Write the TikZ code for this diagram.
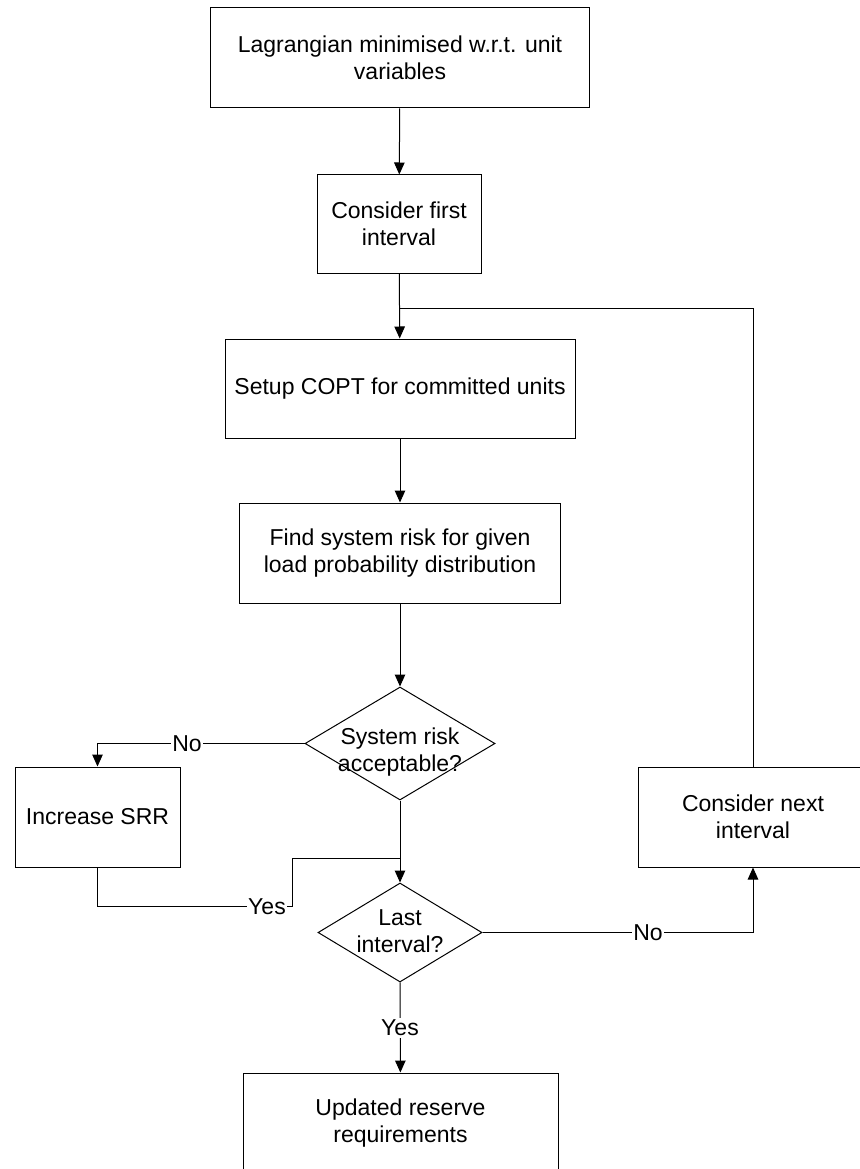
\documentclass[tikz,border=0pt]{standalone}
\usepackage{fontspec}
\setmainfont{Liberation Sans}
\usetikzlibrary{shapes.geometric,arrows.meta}
\begin{document}
\begin{tikzpicture}[x=1pt,y=-1pt,
  font=\fontsize{23}{27}\selectfont,
  line width=1pt,
  box/.style={draw, rectangle, align=center, inner sep=0pt},
  dia/.style={draw, diamond, inner sep=0pt},
  txt/.style={align=center, inner sep=0pt},
  lbl/.style={fill=white, inner sep=1.5pt},
  arr/.style={-{Triangle[length=12pt,width=10.5pt]}}]
\path[use as bounding box] (0,0) rectangle (859,1169);

\node[box, minimum width=379pt, minimum height=100pt] (b1) at (400,58) {Lagrangian minimised w.r.t. unit\\variables};
\node[box, minimum width=164pt, minimum height=98pt] (b2) at (399,224) {Consider first\\interval};
\node[box, minimum width=350pt, minimum height=99pt] (b3) at (400,388.5) {Setup COPT for committed units};
\node[box, minimum width=321pt, minimum height=100pt] (b4) at (400,553) {Find system risk for given\\load probability distribution};
\node[dia, minimum width=190pt, minimum height=113pt] (d1) at (400,743.5) {};
\node[txt] (d1t) at (400,752) {System risk\\acceptable?};
\node[box, minimum width=165pt, minimum height=100pt] (b5) at (97.5,817) {Increase SRR};
\node[box, minimum width=230pt, minimum height=100pt] (b6) at (753,817) {Consider next\\interval};
\node[dia, minimum width=164pt, minimum height=99pt] (d2) at (400,932.5) {};
\node[txt] (d2t) at (400,931) {Last\\interval?};
\node[box, minimum width=315pt, minimum height=100pt] (b7) at (400.5,1123) {Updated reserve\\requirements};

\coordinate (j1) at (400,308);
\coordinate (j2) at (400,858);
\coordinate (c1) at (292,906);

\draw[arr] (b1) -- (b2);
\draw[arr] (b2) -- (b3);
\draw (b6.north) |- (j1);
\draw[arr] (b3) -- (b4);
\draw[arr] (b4) -- (d1);
\draw[arr] (d1.west) -| (b5.north);
\draw[arr] (d1) -- (d2);
\draw (b5.south) |- (c1) |- (j2);
\draw[arr] (d2.east) -| (b6.south);
\draw[arr] (d2) -- (b7);

\node[lbl] (no1) at (187,743.5) {No};
\node[lbl] (yes1) at (267,907) {Yes};
\node[lbl] (no2) at (648,932.5) {No};
\node[lbl] (yes2) at (400,1028) {Yes};
\end{tikzpicture}
\end{document}
